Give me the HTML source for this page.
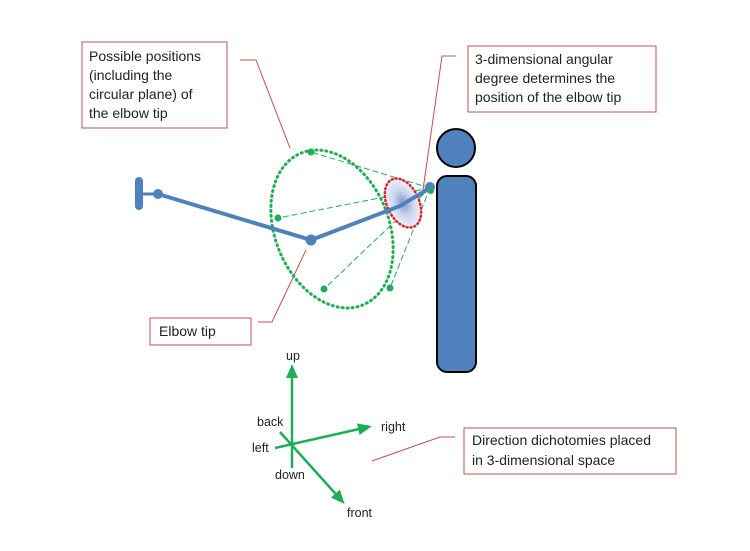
<!DOCTYPE html>
<html><head><meta charset="utf-8"><style>
body{margin:0;background:#fff;}
svg{display:block;font-family:"Liberation Sans",Arial,sans-serif;}
</style></head><body>
<svg width="750" height="551" viewBox="0 0 750 551" xmlns="http://www.w3.org/2000/svg">
<defs>
<marker id="ar" markerWidth="14" markerHeight="12" refX="10" refY="6" orient="auto" markerUnits="userSpaceOnUse"><path d="M0,0 L14,6 L0,12 z" fill="#1fae55"/></marker>
<radialGradient id="rg"><stop offset="0" stop-color="#7f95c9"/><stop offset="0.5" stop-color="#c9d3ee"/><stop offset="1" stop-color="#eef1fa"/></radialGradient>
</defs>
<rect x="82" y="42" width="145" height="86" fill="#fff" stroke="#c0504d" stroke-width="1"/>
<text font-size="14" fill="#222"><tspan x="89" y="61">Possible positions</tspan><tspan x="89" y="80">(including the</tspan><tspan x="89" y="99">circular plane) of</tspan><tspan x="89" y="118">the elbow tip</tspan></text>
<polyline points="240,60 256,60 290,148" fill="none" stroke="#c0504d" stroke-width="1"/>
<rect x="468" y="46" width="188" height="66" fill="#fff" stroke="#c0504d" stroke-width="1"/>
<text font-size="14" fill="#222"><tspan x="475" y="64">3-dimensional angular</tspan><tspan x="475" y="83">degree determines the</tspan><tspan x="475" y="102">position of the elbow tip</tspan></text>
<polyline points="456,56 442,56 423,190" fill="none" stroke="#c0504d" stroke-width="1"/>
<rect x="150" y="318" width="101" height="27" fill="#fff" stroke="#c0504d" stroke-width="1"/>
<text x="159" y="336" font-size="14" fill="#222">Elbow tip</text>
<polyline points="258,322 272,322 306,250" fill="none" stroke="#c0504d" stroke-width="1"/>
<rect x="464" y="428" width="212" height="46" fill="#fff" stroke="#c0504d" stroke-width="1"/>
<text font-size="14" fill="#222"><tspan x="472" y="445">Direction dichotomies placed</tspan><tspan x="472" y="465">in 3-dimensional space</tspan></text>
<polyline points="455,437 440,437 372,461" fill="none" stroke="#c0504d" stroke-width="1"/>
<circle cx="456" cy="148" r="19" fill="#4f81bd" stroke="#000" stroke-width="2"/>
<rect x="437" y="176" width="39" height="196" rx="10" fill="#4f81bd" stroke="#000" stroke-width="2"/>
<ellipse cx="332" cy="229" rx="57" ry="82" transform="rotate(-22 332 229)" fill="none" stroke="#1fae55" stroke-width="3" stroke-dasharray="1 4" stroke-linecap="round"/>
<g stroke="#1fae55" stroke-width="1" stroke-dasharray="6 3" fill="none">
<line x1="430" y1="188" x2="311" y2="152"/>
<line x1="430" y1="188" x2="278" y2="218"/>
<line x1="430" y1="188" x2="324" y2="289"/>
<line x1="430" y1="188" x2="390" y2="288"/>
</g>
<g fill="#1fae55"><circle cx="311" cy="152" r="3.5"/><circle cx="278" cy="218" r="3.5"/><circle cx="324" cy="289" r="3.5"/><circle cx="390" cy="288" r="3.5"/></g>
<ellipse cx="403" cy="203" rx="16" ry="26" transform="rotate(-25 403 203)" fill="url(#rg)" stroke="#e0202a" stroke-width="2.5" stroke-dasharray="1 3" stroke-linecap="round"/>
<rect x="135" y="177" width="8" height="33" rx="4" fill="#4f81bd"/>
<line x1="140" y1="194" x2="158" y2="194" stroke="#4f81bd" stroke-width="3"/>
<polyline points="158,194 311,240 400,206 430,188" fill="none" stroke="#4f81bd" stroke-width="4"/>
<circle cx="158" cy="194" r="5" fill="#4f81bd"/>
<circle cx="311" cy="240" r="5.5" fill="#4f81bd"/>
<circle cx="430" cy="187" r="5" fill="#4f81bd"/>
<circle cx="431" cy="191" r="3" fill="#1fae55"/>
<g stroke="#1fae55" stroke-width="2.5" fill="none">
<line x1="292" y1="468" x2="292" y2="368" marker-end="url(#ar)"/>
<line x1="275" y1="448" x2="368" y2="427" marker-end="url(#ar)"/>
<line x1="280" y1="432" x2="342" y2="501" marker-end="url(#ar)"/>
</g>
<g font-size="12.5" fill="#222">
<text x="286" y="360">up</text>
<text x="257" y="426">back</text>
<text x="252" y="452">left</text>
<text x="275" y="479">down</text>
<text x="381" y="431">right</text>
<text x="347" y="517">front</text>
</g>
</svg>
</body></html>
